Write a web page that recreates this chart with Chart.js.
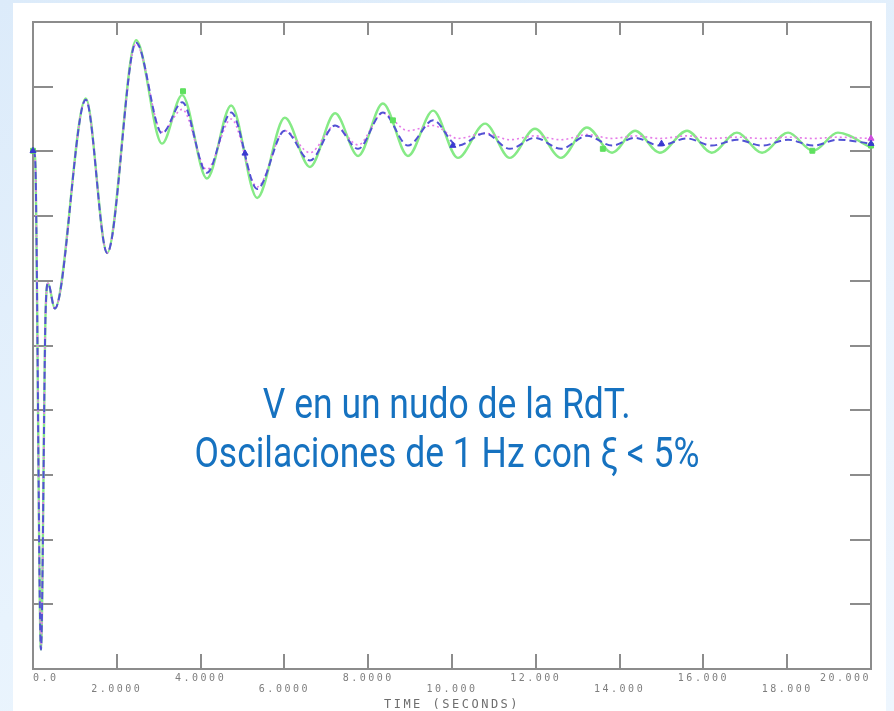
<!DOCTYPE html>
<html>
<head>
<meta charset="utf-8">
<script src="https://cdn.jsdelivr.net/npm/chart.js@4.4.1/dist/chart.umd.min.js"></script>
<style>
  html, body { margin: 0; padding: 0; }
  body {
    width: 894px; height: 711px; overflow: hidden; position: relative;
    background: linear-gradient(160deg, #dcebfa 0%, #e8f3fd 60%, #eef6fe 100%);
  }
  .panel { position: absolute; left: 13px; top: 3px; width: 873px; height: 708px; background: #fff; }
  #chart { position: absolute; left: 0; top: 0; }
  .note {
    position: absolute; left: 0; width: 894px; text-align: center;
    font-family: Roboto, "Noto Sans", sans-serif; font-size: 42px; color: #1672c0;
    white-space: nowrap; line-height: 1;
  }
  .note span { display: inline-block; transform-origin: 50% 50%; }
</style>
</head>
<body>
<div class="panel"></div>
<canvas id="chart" width="894" height="711"></canvas>
<div class="note" id="n1" style="top:383px;"><span>V en un nudo de la RdT.</span></div>
<div class="note" id="n2" style="top:432px;"><span>Oscilaciones de 1 Hz con ξ &lt; 5%</span></div>
<script>
// time (s) of the peaks / troughs
const times = [0, 0.05, 0.19, 0.3, 0.36, 0.52, 1.26, 1.77, 2.46, 3.08, 3.56, 4.15, 4.73, 5.35,
  6.01, 6.61, 7.21, 7.76, 8.35, 8.95, 9.55, 10.14, 10.79, 11.38, 11.98, 12.6, 13.22, 13.82,
  14.37, 14.96, 15.61, 16.2, 16.8, 17.4, 18.02, 18.62, 19.21, 20];

// green solid trace
const greenVals = [8.01, 7.9, 0.3, 5.5, 5.96, 5.57, 8.82, 6.43, 9.72, 8.12, 8.87, 7.58, 8.71, 7.28,
  8.52, 7.76, 8.59, 7.93, 8.74, 7.93, 8.63, 7.9, 8.43, 7.9, 8.35, 7.9, 8.37, 7.98,
  8.32, 7.98, 8.32, 7.98, 8.29, 7.98, 8.29, 8.01, 8.29, 8.06];

// blue dashed trace
const blueVals = [8.01, 7.9, 0.3, 5.5, 5.96, 5.57, 8.8, 6.43, 9.68, 8.28, 8.76, 7.67, 8.6, 7.42,
  8.32, 7.86, 8.4, 8.04, 8.6, 8.09, 8.48, 8.09, 8.28, 8.04, 8.21, 8.04, 8.24, 8.09,
  8.21, 8.09, 8.2, 8.09, 8.18, 8.09, 8.18, 8.09, 8.18, 8.12];

// magenta dotted trace
const magentaVals = [8.01, 7.9, 0.3, 5.5, 5.96, 5.57, 8.8, 6.43, 9.66, 8.3, 8.65, 7.72, 8.5, 7.45,
  8.32, 7.98, 8.4, 8.1, 8.59, 8.32, 8.4, 8.2, 8.28, 8.18, 8.24, 8.18, 8.26, 8.2,
  8.24, 8.2, 8.24, 8.2, 8.22, 8.2, 8.22, 8.2, 8.22, 8.2];

// plot symbols
const greenMarkT = [0, 3.58, 8.59, 13.6, 18.6, 20];
const greenMarkV = [8.01, 8.93, 8.48, 8.04, 8.01, 8.09];
const blueMarkT = [0, 5.06, 10.02, 15.0, 20];
const blueMarkV = [8.01, 7.97, 8.09, 8.12, 8.12];
const magentaMarkT = [20];
const magentaMarkV = [8.2];

const xTickLabels = ['0.0', '2.0000', '4.0000', '6.0000', '8.0000', '10.000',
  '12.000', '14.000', '16.000', '18.000', '20.000'];

const frameColor = '#8c8c8c';

const pts = (ts, vs) => ts.map((t, i) => ({ x: t, y: vs[i] }));

// box + inward tick marks, plotter style
const plotterFrame = {
  id: 'plotterFrame',
  beforeUpdate(chart) { chart.ctx.letterSpacing = '2.5px'; },
  beforeDraw(chart) { chart.ctx.letterSpacing = '2.5px'; },
  beforeDatasetsDraw(chart) {
    const { ctx, chartArea: a, scales: { x, y } } = chart;
    ctx.save();
    ctx.strokeStyle = frameColor;
    ctx.lineWidth = 2;
    ctx.strokeRect(a.left, a.top, a.right - a.left, a.bottom - a.top);
    ctx.beginPath();
    x.ticks.forEach(t => {
      if (t.value <= x.min || t.value >= x.max) return;
      const px = Math.round(x.getPixelForValue(t.value));
      ctx.moveTo(px, a.bottom); ctx.lineTo(px, a.bottom - 15);
      ctx.moveTo(px, a.top); ctx.lineTo(px, a.top + 13);
    });
    y.ticks.forEach(t => {
      if (t.value <= y.min || t.value >= y.max) return;
      const py = Math.round(y.getPixelForValue(t.value));
      ctx.moveTo(a.left, py); ctx.lineTo(a.left + 20, py);
      ctx.moveTo(a.right, py); ctx.lineTo(a.right - 21, py);
    });
    ctx.stroke();
    ctx.restore();
  }
};

const markerSet = (ts, vs, color, style, r) => ({
  data: pts(ts, vs), showLine: false, pointStyle: style, pointRadius: r,
  pointBackgroundColor: color, pointBorderColor: color, borderColor: color, clip: false
});

new Chart(document.getElementById('chart'), {
  type: 'line',
  data: {
    datasets: [
      markerSet(blueMarkT, blueMarkV, '#3a3ad0', 'triangle', 3.5),
      markerSet(magentaMarkT, magentaMarkV, '#d04ee0', 'triangle', 3.5),
      markerSet(greenMarkT, greenMarkV, '#5fe05f', 'rect', 3.5),
      {
        label: 'blue', data: pts(times, blueVals),
        borderColor: '#5252d4', borderWidth: 2, borderDash: [7, 4],
        pointRadius: 0, cubicInterpolationMode: 'monotone', clip: 4
      },
      {
        label: 'magenta', data: pts(times, magentaVals),
        borderColor: '#e57ae8', borderWidth: 1.6, borderDash: [2, 3],
        pointRadius: 0, cubicInterpolationMode: 'monotone', clip: 4
      },
      {
        label: 'green', data: pts(times, greenVals),
        borderColor: '#86ea86', borderWidth: 2.4,
        pointRadius: 0, cubicInterpolationMode: 'monotone', clip: 4
      }
    ]
  },
  options: {
    responsive: false,
    animation: false,
    events: [],
    layout: { padding: { left: 33, right: 23, top: 22, bottom: 0 } },
    plugins: { legend: { display: false }, tooltip: { enabled: false } },
    scales: {
      x: {
        type: 'linear', min: 0, max: 20,
        border: { display: false },
        grid: { display: false, drawTicks: false },
        ticks: {
          stepSize: 2, autoSkip: false, maxRotation: 0, align: 'inner', padding: 4,
          color: '#7e7e7e',
          font: { family: '"DejaVu Sans Mono", monospace', size: 10, lineHeight: 1.1 },
          callback: (v, i) => (i % 2 === 0 ? [xTickLabels[i], ''] : ['', xTickLabels[i]])
        },
        title: {
          display: true, text: 'TIME (SECONDS)', color: '#6e6e6e',
          font: { family: '"DejaVu Sans Mono", monospace', size: 12, lineHeight: 1 },
          padding: { top: 0, bottom: 0 }
        }
      },
      y: {
        display: false, min: 0, max: 10,
        ticks: { stepSize: 1 }
      }
    }
  },
  plugins: [plotterFrame]
});

// squeeze the caption to the narrow face of the original
const target = 505;
const s2 = document.querySelector('#n2 span');
const k = target / s2.getBoundingClientRect().width;
document.querySelectorAll('.note span').forEach(s => { s.style.transform = `scaleX(${k})`; });
</script>
</body>
</html>
